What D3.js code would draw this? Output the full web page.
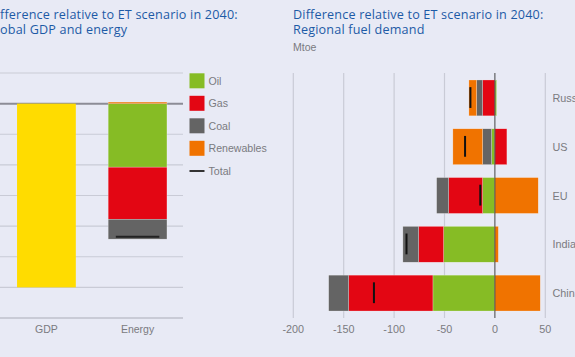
<!DOCTYPE html>
<html><head><meta charset="utf-8">
<script src="https://cdn.jsdelivr.net/npm/d3@7"></script>
<style>
html,body{margin:0;padding:0;background:#e8eaf5;overflow:hidden}
svg{display:block;font-family:"Liberation Sans",Arial,sans-serif}
</style></head><body>
<svg id="c" width="575" height="357"></svg>
<script>
// ---- Data ----
const fuels = ["Oil","Gas","Coal","Renewables"];
const fuelColors = ["#86bc25","#e30613","#646464","#f07300"];
// Left panel: global GDP and energy (% difference)
const globalCats = ["GDP","Energy"];
const gdpValue = [-12];
const energyOil = [-4.15];
const energyGas = [-3.4];
const energyCoal = [-1.3];
const energyRenewables = [0.1];
const energyTotal = [-8.7];
const leftTicks = [2,0,-2,-4,-6,-8,-10,-12,-14];
// Right panel: regional fuel demand (Mtoe)
const regions = ["Russia","US","EU","India","China"];
const regionOil = [1.7,-3.3,-12.2,-50.9,-61.5];
const regionGas = [-12.2,11.9,-33.7,-24.8,-83.6];
const regionCoal = [-6,-8.9,-11.9,-15.6,-19.8];
const regionRenewables = [-7.6,-29.5,43,3.4,45];
const regionTotal = [-24.3,-29.6,-14.5,-87.7,-120];
const rightTicks = [-200,-150,-100,-50,0,50];

const svg = d3.select("#c");
const blue = "#1d5aa6", grey = "#7a7a80";
const titleFont = "'Open Sans','Liberation Sans',sans-serif";
const titleSize = 12.6, titleLS = 0.18;

// ---- Titles ----
function titleLines(x, lines){
  lines.forEach((l,i)=>svg.append("text").attr("x",x).attr("y",19+i*15).attr("fill",blue)
    .attr("font-size",titleSize).attr("letter-spacing",titleLS).attr("font-family",titleFont).text(l));
}
// measure the width of "Di" so the cropped left title begins at "fference"
const probe = svg.append("text").attr("font-size",titleSize).attr("letter-spacing",titleLS)
  .attr("font-family",titleFont).text("Di");
const diW = probe.node().getComputedTextLength(); probe.remove();
titleLines(-diW,["Difference relative to ET scenario in 2040:","Global GDP and energy"]);
titleLines(293,["Difference relative to ET scenario in 2040:","Regional fuel demand"]);
svg.append("text").attr("x",293).attr("y",51).attr("fill",grey).attr("font-size",10.5).text("Mtoe");

// ---- Left panel ----
const yL = d3.scaleLinear().domain([2,-14]).range([73,318]);
const xL = d3.scaleBand().domain(globalCats).range([1,183]).paddingInner(0.355).paddingOuter(0.176);
const gL = svg.append("g");
gL.selectAll("line.grid").data(leftTicks).join("line")
  .attr("x1",0).attr("x2",183).attr("y1",d=>yL(d)).attr("y2",d=>yL(d))
  .attr("stroke",d=>d===0?"#8c8c96":"#c9cbd6").attr("stroke-width",d=>(d===0||d===-14)?2:1.2);
// GDP bar
gL.append("rect").attr("x",xL("GDP")).attr("width",xL.bandwidth())
  .attr("y",yL(0)).attr("height",yL(gdpValue[0])-yL(0)).attr("fill","#ffdc00");
// Energy stacked
const eRow = [{Oil:energyOil[0],Gas:energyGas[0],Coal:energyCoal[0],Renewables:energyRenewables[0]}];
const eStack = d3.stack().keys(fuels).offset(d3.stackOffsetDiverging)(eRow);
eStack.forEach((s,i)=>{
  const d = s[0];
  gL.append("rect").attr("x",xL("Energy")).attr("width",xL.bandwidth())
    .attr("y",yL(Math.max(d[0],d[1]))).attr("height",Math.abs(yL(d[0])-yL(d[1])))
    .attr("fill",fuelColors[i]).attr("stroke","#fff").attr("stroke-opacity",0.5).attr("stroke-width",0.5);
});
gL.append("line").attr("x1",xL("Energy")+xL.bandwidth()*0.13).attr("x2",xL("Energy")+xL.bandwidth()*0.87)
  .attr("y1",yL(energyTotal[0])).attr("y2",yL(energyTotal[0])).attr("stroke","#222").attr("stroke-width",2);
gL.selectAll("text.cat").data(globalCats).join("text")
  .attr("x",d=>xL(d)+xL.bandwidth()/2).attr("y",333).attr("text-anchor","middle")
  .attr("fill",grey).attr("font-size",10.5).text(d=>d);

// ---- Legend ----
const lg = svg.append("g");
fuels.forEach((f,i)=>{
  const y = 73.3 + i*22.5;
  lg.append("rect").attr("x",189.5).attr("y",y).attr("width",15).attr("height",15).attr("fill",fuelColors[i]);
  lg.append("text").attr("x",208.5).attr("y",y+11.5).attr("fill",grey).attr("font-size",10.6).text(f);
});
lg.append("line").attr("x1",189.5).attr("x2",204.5).attr("y1",171).attr("y2",171).attr("stroke","#333").attr("stroke-width",2);
lg.append("text").attr("x",208.5).attr("y",174.8).attr("fill",grey).attr("font-size",10.6).text("Total");

// ---- Right panel ----
const xR = d3.scaleLinear().domain([-200,50]).range([293.3,545.3]);
const yR = d3.scaleBand().domain(regions).range([73,318]).paddingInner(0.265).paddingOuter(0.143);
const gR = svg.append("g");
gR.selectAll("line.grid").data(rightTicks.filter(t=>t!==0)).join("line")
  .attr("x1",d=>xR(d)).attr("x2",d=>xR(d)).attr("y1",73).attr("y2",318)
  .attr("stroke","#c9cbd6").attr("stroke-width",1.2);
const rows = regions.map((r,i)=>({region:r,Oil:regionOil[i],Gas:regionGas[i],Coal:regionCoal[i],Renewables:regionRenewables[i]}));
const rStack = d3.stack().keys(fuels).offset(d3.stackOffsetDiverging)(rows);
rStack.forEach((s,i)=>{
  gR.selectAll(null).data(s).join("rect")
    .attr("x",d=>xR(Math.min(d[0],d[1]))).attr("width",d=>Math.abs(xR(d[1])-xR(d[0])))
    .attr("y",d=>yR(d.data.region)).attr("height",yR.bandwidth())
    .attr("fill",fuelColors[i]).attr("stroke","#fff").attr("stroke-opacity",0.5).attr("stroke-width",0.5);
});
gR.selectAll("line.total").data(regions).join("line")
  .attr("x1",(d,i)=>xR(regionTotal[i])).attr("x2",(d,i)=>xR(regionTotal[i]))
  .attr("y1",d=>yR(d)+yR.bandwidth()*0.2).attr("y2",d=>yR(d)+yR.bandwidth()*0.78)
  .attr("stroke","#111").attr("stroke-width",2);
gR.append("line").attr("x1",xR(0)).attr("x2",xR(0)).attr("y1",73).attr("y2",318)
  .attr("stroke","#444").attr("stroke-width",1);
gR.selectAll("text.reg").data(regions).join("text")
  .attr("x",552.5).attr("y",d=>yR(d)+yR.bandwidth()/2+4).attr("fill",grey).attr("font-size",10.8).text(d=>d);
gR.selectAll("text.tick").data(rightTicks).join("text")
  .attr("x",d=>xR(d)).attr("y",333).attr("text-anchor","middle")
  .attr("fill",grey).attr("font-size",10.8).text(d=>d<0?"-"+Math.abs(d):d);
</script>
</body></html>
